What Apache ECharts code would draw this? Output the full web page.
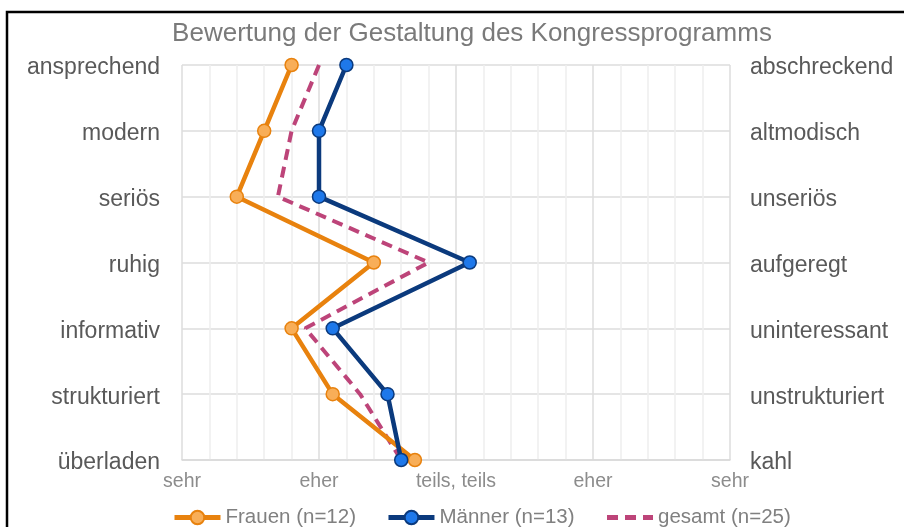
<!DOCTYPE html>
<html>
<head>
<meta charset="utf-8">
<script src="https://cdn.jsdelivr.net/npm/echarts@6/dist/echarts.min.js"></script>
<style>
  html, body { margin: 0; padding: 0; background: #fff; }
  #chart { width: 904px; height: 527px; }
</style>
</head>
<body>
<div id="chart"></div>
<script>
// Kategorien links / rechts (Gegensatzpaare)
let categoriesLeft = ['ansprechend', 'modern', 'seriös', 'ruhig', 'informativ', 'strukturiert', 'überladen'];
let categoriesRight = ['abschreckend', 'altmodisch', 'unseriös', 'aufgeregt', 'uninteressant', 'unstrukturiert', 'kahl'];
// Skala 1..5
let xTickLabels = ['sehr', 'eher', 'teils, teils', 'eher', 'sehr'];
// Mittelwerte je Gruppe
let frauen = [1.8, 1.6, 1.4, 2.4, 1.8, 2.1, 2.7];
let maenner = [2.2, 2.0, 2.0, 3.1, 2.1, 2.5, 2.6];
let gesamt = [2.0, 1.8, 1.7, 2.8, 1.9, 2.3, 2.6];

let toPoints = (values) => values.map((v, i) => [v, i]);

let chart = echarts.init(document.getElementById('chart'));
let font = 'Liberation Sans, Arial, sans-serif';

// Achsenbeschriftung etwas nach unten versetzt
let catLabel = (margin) => ({
    margin: margin,
    formatter: (v) => '{t|' + v + '}',
    rich: { t: { fontFamily: font, fontSize: 23, color: '#595959', padding: [6, 0, 0, 0] } }
});

let option = {
    backgroundColor: '#fff',
    animation: false,
    title: {
        text: 'Bewertung der Gestaltung des Kongressprogramms',
        left: 467,
        textAlign: 'center',
        top: 16,
        textStyle: { fontFamily: font, fontSize: 26, fontWeight: 'normal', color: '#7a7a7a' }
    },
    graphic: [{
        type: 'rect',
        shape: { x: 7, y: 12, width: 1000, height: 1000 },
        style: { fill: 'none', stroke: '#000', lineWidth: 2.5 },
        silent: true
    }],
    legend: {
        left: 167,
        top: 502,
        itemWidth: 46,
        itemHeight: 17,
        itemGap: 30,
        lineStyle: { width: 5 },
        textStyle: { fontFamily: font, fontSize: 20.5, color: '#808080' },
        data: ['Frauen (n=12)', 'Männer (n=13)', { name: 'gesamt (n=25)', itemStyle: { opacity: 0 } }]
    },
    grid: { left: 182, right: 174, top: 65, bottom: 67 },
    xAxis: {
        type: 'value',
        min: 1,
        max: 5,
        interval: 1,
        axisLine: { show: true, lineStyle: { color: '#d9d9d9', width: 1.5 } },
        axisTick: { show: false },
        axisLabel: {
            margin: 12,
            fontFamily: font,
            fontSize: 19.5,
            color: '#8c8c8c',
            formatter: (v) => xTickLabels[Math.round(v) - 1] || ''
        },
        splitLine: { show: true, lineStyle: { color: '#dcdcdc', width: 1.5 } },
        minorTick: { show: false, splitNumber: 5 },
        minorSplitLine: { show: true, lineStyle: { color: '#eeeeee', width: 1.5 } }
    },
    yAxis: [{
        type: 'category',
        data: categoriesLeft,
        inverse: true,
        boundaryGap: false,
        position: 'left',
        axisLine: { show: false },
        axisTick: { show: false },
        axisLabel: catLabel(22),
        splitLine: { show: true, lineStyle: { color: '#dcdcdc', width: 1.5 } }
    }, {
        type: 'category',
        data: categoriesRight,
        inverse: true,
        boundaryGap: false,
        position: 'right',
        axisLine: { show: false },
        axisTick: { show: false },
        axisLabel: catLabel(20),
        splitLine: { show: false }
    }],
    series: [{
        name: 'Frauen (n=12)',
        type: 'line',
        data: toPoints(frauen),
        symbol: 'circle',
        symbolSize: 13,
        lineStyle: { color: '#e8820e', width: 4.5 },
        itemStyle: { color: '#f8ae58', borderColor: '#e8820e', borderWidth: 1.5 },
        z: 3
    }, {
        name: 'Männer (n=13)',
        type: 'line',
        data: toPoints(maenner),
        symbol: 'circle',
        symbolSize: 13,
        lineStyle: { color: '#0b3a7d', width: 4.5 },
        itemStyle: { color: '#1e78ea', borderColor: '#0b3a7d', borderWidth: 1.5 },
        z: 4
    }, {
        name: 'gesamt (n=25)',
        type: 'line',
        data: toPoints(gesamt),
        symbol: 'none',
        lineStyle: { color: '#bd4479', width: 4, type: [11, 7] },
        itemStyle: { color: '#bd4479' },
        z: 2
    }]
};

chart.setOption(option);
</script>
</body>
</html>
